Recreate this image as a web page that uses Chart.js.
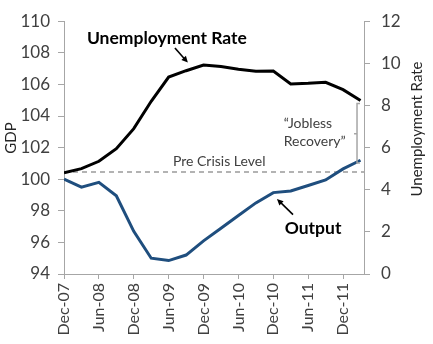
<!DOCTYPE html>
<html>
<head>
<meta charset="utf-8">
<script src="https://cdn.jsdelivr.net/npm/chart.js@4.4.1/dist/chart.umd.min.js"></script>
<style>
  html, body { margin: 0; padding: 0; background: #fff; }
  #wrap { width: 433px; height: 344px; position: relative; }
</style>
</head>
<body>
<div id="wrap"><canvas id="gdpChart"></canvas></div>
<script>
// quarterly data, Dec-07 .. Mar-12
const quarters = ['Dec-07', 'Mar-08', 'Jun-08', 'Sep-08', 'Dec-08', 'Mar-09', 'Jun-09', 'Sep-09', 'Dec-09',
                  'Mar-10', 'Jun-10', 'Sep-10', 'Dec-10', 'Mar-11', 'Jun-11', 'Sep-11', 'Dec-11', 'Mar-12'];
const gdpOutput = [100.0, 99.5, 99.8, 98.95, 96.7, 95.0, 94.85, 95.2, 96.1, 96.9, 97.7, 98.5, 99.15, 99.25, 99.6, 99.95, 100.65, 101.2];
const unemploymentRate = [4.8, 5.0, 5.35, 5.95, 6.9, 8.2, 9.35, 9.65, 9.92, 9.85, 9.72, 9.62, 9.63, 9.02, 9.05, 9.1, 8.75, 8.24];
const preCrisisLevel = 100.45;

const gdpTicks = { min: 94, max: 110, step: 2 };
const rateTicks = { min: 0, max: 12, step: 2 };

const FONT = 'Lato, "Open Sans", sans-serif';
const axisColor = '#a6a6a6';
const labelColor = '#404040';

const toPoints = arr => arr.map((v, i) => ({ x: i, y: v }));

function drawArrow(ctx, x1, y1, x2, y2) {
    const ang = Math.atan2(y2 - y1, x2 - x1);
    const head = 7;
    ctx.beginPath();
    ctx.moveTo(x1, y1);
    ctx.lineTo(x2 - Math.cos(ang) * head * 0.6, y2 - Math.sin(ang) * head * 0.6);
    ctx.stroke();
    ctx.beginPath();
    ctx.moveTo(x2, y2);
    ctx.lineTo(x2 - head * Math.cos(ang - 0.45), y2 - head * Math.sin(ang - 0.45));
    ctx.lineTo(x2 - head * Math.cos(ang + 0.45), y2 - head * Math.sin(ang + 0.45));
    ctx.closePath();
    ctx.fill();
}

// text, arrows, bracket and axis titles
const annotations = {
    id: 'annotations',
    afterDraw(chart) {
        const { ctx, scales: { x, y } } = chart;
        const px = v => x.getPixelForValue(v);
        const py = v => y.getPixelForValue(v);
        ctx.save();

        // labels on the lines
        ctx.fillStyle = '#000';
        ctx.strokeStyle = '#000';
        ctx.lineWidth = 1.6;
        ctx.textAlign = 'center';
        ctx.textBaseline = 'middle';
        ctx.font = `bold 17.5px ${FONT}`;
        ctx.fillText('Unemployment Rate', px(5.9), py(108.92));
        drawArrow(ctx, px(6.36), py(108.3), px(7.1), py(107.38));
        ctx.fillText('Output', px(14.28), py(96.9));
        drawArrow(ctx, px(13.13), py(97.76), px(12.21), py(98.75));

        // pre crisis level
        ctx.fillStyle = labelColor;
        ctx.font = `14px ${FONT}`;
        ctx.fillText('Pre Crisis Level', px(8.9), py(101.15));

        // jobless recovery
        ctx.textAlign = 'left';
        ctx.font = `14px ${FONT}`;
        ctx.fillText('\u201CJobless', px(12.6), py(103.5));
        ctx.fillText('Recovery\u201D', px(12.6), py(102.4));

        // bracket
        const bx = px(16.8);
        const top = py(104.79), mid = py(102.88), bot = py(101.03);
        ctx.strokeStyle = '#a6a6a6';
        ctx.lineWidth = 1.5;
        ctx.beginPath();
        ctx.moveTo(bx + 3, top); ctx.lineTo(bx, top); ctx.lineTo(bx, bot); ctx.lineTo(bx + 3, bot);
        ctx.moveTo(bx - 3, mid); ctx.lineTo(bx, mid);
        ctx.stroke();

        // axis titles
        ctx.fillStyle = '#262626';
        ctx.textAlign = 'center';
        ctx.font = `15px ${FONT}`;
        ctx.translate(11, 138);
        ctx.rotate(-Math.PI / 2);
        ctx.fillText('GDP', 0, 0);
        ctx.setTransform(1, 0, 0, 1, 0, 0);
        ctx.translate(417, 129);
        ctx.rotate(-Math.PI / 2);
        ctx.fillText('Unemployment Rate', 0, 0);
        ctx.restore();
    }
};

const ctx = document.getElementById('gdpChart').getContext('2d');
new Chart(ctx, {
    type: 'line',
    data: {
        datasets: [
            {
                label: 'Unemployment Rate',
                data: toPoints(unemploymentRate),
                yAxisID: 'y1',
                borderColor: '#000000',
                borderWidth: 3,
                pointRadius: 0,
                tension: 0,
                order: 1
            },
            {
                label: 'Output',
                data: toPoints(gdpOutput),
                yAxisID: 'y',
                borderColor: '#1f4e7e',
                borderWidth: 3,
                pointRadius: 0,
                tension: 0,
                order: 2
            },
            {
                label: 'Pre Crisis Level',
                data: [{ x: 0, y: preCrisisLevel }, { x: 17.2, y: preCrisisLevel }],
                yAxisID: 'y',
                borderColor: '#9a9a9a',
                borderWidth: 1.5,
                borderDash: [5, 4],
                pointRadius: 0,
                order: 3
            }
        ]
    },
    options: {
        responsive: true,
        maintainAspectRatio: false,
        animation: false,
        layout: { padding: { top: 14, left: 0, right: 0, bottom: 0 } },
        plugins: { legend: { display: false }, tooltip: { enabled: false } },
        scales: {
            x: {
                type: 'linear',
                min: 0,
                max: 17.2,
                afterFit: s => { s.height = 70; },
                grid: { drawOnChartArea: false, tickLength: 5, color: axisColor },
                border: { color: axisColor },
                ticks: {
                    stepSize: 2,
                    includeBounds: false,
                    autoSkip: false,
                    minRotation: 90,
                    maxRotation: 90,
                    padding: 4,
                    color: labelColor,
                    font: { family: FONT, size: 16 },
                    callback: v => Number.isInteger(v) ? quarters[v] : ''
                }
            },
            y: {
                position: 'left',
                min: gdpTicks.min,
                max: gdpTicks.max,
                afterFit: s => { s.width = 64; },
                grid: { drawOnChartArea: false, tickLength: 6, color: axisColor },
                border: { color: axisColor },
                ticks: { stepSize: gdpTicks.step, padding: 8, color: labelColor, font: { family: FONT, size: 17 } }
            },
            y1: {
                position: 'right',
                min: rateTicks.min,
                max: rateTicks.max,
                afterFit: s => { s.width = 69; },
                grid: { drawOnChartArea: false, tickLength: 6, color: axisColor },
                border: { color: axisColor },
                ticks: { stepSize: rateTicks.step, padding: 11, color: labelColor, font: { family: FONT, size: 17 } }
            }
        }
    },
    plugins: [annotations]
});
</script>
</body>
</html>
